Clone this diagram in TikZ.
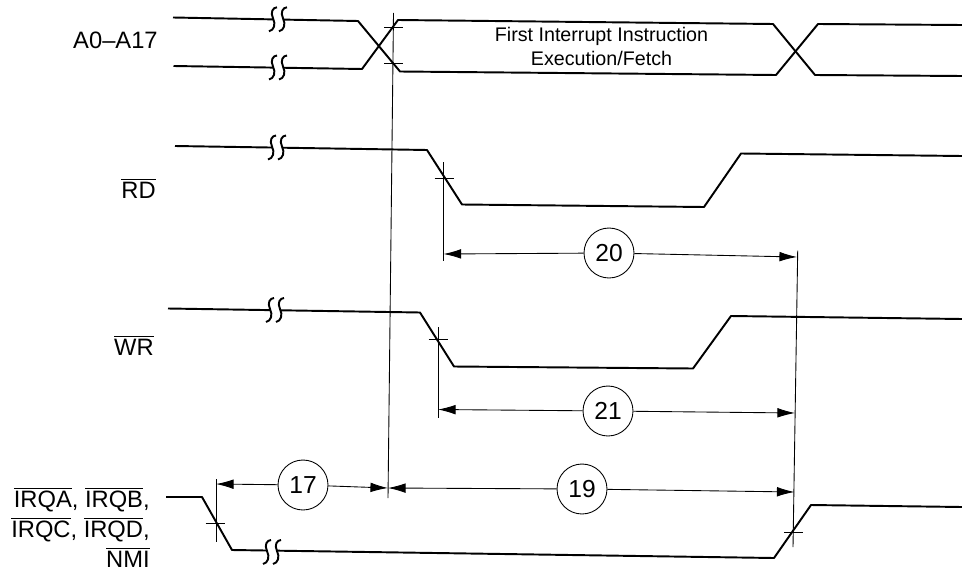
\documentclass[tikz,border=0pt]{standalone}
\usepackage{fontspec}
\setmainfont{Liberation Sans}
\usetikzlibrary{arrows.meta}
\newcommand{\ovl}[1]{$\overline{\mbox{#1}}$}

\begin{document}
\begin{tikzpicture}[x=0.02cm,y=0.02cm]
		\tikzstyle{every node}+=[inner sep=0pt]
		\tikzstyle{wave}=[line width=1.1pt,line join=round]
		\tikzstyle{thinline}=[line width=0.5pt]
		\tikzstyle{dimline}=[line width=0.5pt,-{Latex[length=10pt,width=5.5pt]}]
		\tikzstyle{timecircle}=[circle,draw,line width=0.5pt,fill=white,minimum size=1cm,font=\fontsize{14}{16}\selectfont]
		\tikzstyle{siglabel}=[font=\fontsize{13.5}{17}\selectfont]
		\useasboundingbox (0,0) rectangle (962,-571);
		% address bus
		\draw [wave] (173,-17.5) -- (358,-21) -- (400,-71.5) -- (776,-75) -- (818,-24) -- (962,-25);
		\draw [wave] (173.5,-66) -- (362,-69) -- (398,-20) -- (773,-24) -- (815,-75) -- (962,-76);
		\node [siglabel,anchor=base east] (lbladdr) at (158,-49) {A0--A17};
		\node [align=center,font=\fontsize{11.2}{13.7}\selectfont] (lblfirst) at (601.5,-46.5) {First Interrupt Instruction\\Execution/Fetch};
		% read and write
		\draw [wave] (175,-146) -- (427,-150) -- (462,-204.5) -- (704,-207) -- (741,-153.5) -- (962,-156);
		\node [siglabel,anchor=base east] (lblrd) at (156,-198) {\ovl{RD}};
		\draw [wave] (168,-308.5) -- (420,-312.5) -- (454,-366.5) -- (693,-368.5) -- (731,-316) -- (962,-319);
		\node [siglabel,anchor=base east] (lblwr) at (154,-355) {\ovl{WR}};
		% interrupt inputs
		\draw [wave] (166,-497) -- (202,-497) -- (232,-550) -- (774,-558) -- (811,-505) -- (962,-507);
		\node [siglabel,align=right,anchor=east] (lblirq) at (150,-527.5) {\ovl{IRQA}, \ovl{IRQB},\\\ovl{IRQC}, \ovl{IRQD},\\\ovl{NMI}};
		% line breaks
		\foreach \x/\y in {278/-19.3,278/-67.5,277/-147.5,275/-310,272/-552}
		{
			\fill [white] (\x-5,\y-9) rectangle (\x+5,\y+9);
			\draw [wave] (\x-1,\y+12) .. controls (\x-5,\y+12) and (\x-8,\y+7) .. (\x-5,\y+1) .. controls (\x-2,\y-5) and (\x-4,\y-11) .. (\x-9,\y-12);
			\draw [wave] (\x+9,\y+12) .. controls (\x+5,\y+12) and (\x+2,\y+7) .. (\x+5,\y+1) .. controls (\x+8,\y-5) and (\x+6,\y-11) .. (\x+1,\y-12);
		}
		% timing reference lines
		\coordinate (reftop) at (393.5,-13);
		\coordinate (refbot) at (388,-498);
		\coordinate (endtop) at (797.7,-250.7);
		\coordinate (endbot) at (793,-547);
		\coordinate (rdtop) at (443.5,-162);
		\coordinate (rdbot) at (443.5,-261);
		\coordinate (wrtop) at (438,-327);
		\coordinate (wrbot) at (438,-418);
		\coordinate (irqtop) at (216,-479);
		\coordinate (irqbot) at (216,-542);
		\draw [thinline] (reftop) -- (refbot);
		\draw [thinline] (endtop) -- (endbot);
		\draw [thinline] (rdtop) -- (rdbot);
		\draw [thinline] (wrtop) -- (wrbot);
		\draw [thinline] (irqtop) -- (irqbot);
		% crossing ticks
		\foreach \x/\y in {393.5/-27,393.5/-63,444/-178,438/-339,215/-523,793.5/-532}
		{
			\draw [thinline] (\x-9.5,\y) -- (\x+9.5,\y);
		}
		% intervals
		\node [timecircle] (c17) at (303,-485) {17};
		\node [timecircle] (c19) at (582,-489) {19};
		\node [timecircle] (c20) at (609,-253) {20};
		\node [timecircle] (c21) at (608,-411) {21};
		\coordinate (a17l) at (216,-484);
		\coordinate (a17r) at (388,-488);
		\coordinate (a19l) at (388,-488);
		\coordinate (a19r) at (794.5,-492);
		\coordinate (a20l) at (443.5,-254);
		\coordinate (a20r) at (797,-257);
		\coordinate (a21l) at (438,-409.5);
		\coordinate (a21r) at (795,-413);
		\draw [dimline] (c17) -- (a17l);
		\draw [dimline] (c17) -- (a17r);
		\draw [dimline] (c19) -- (a19l);
		\draw [dimline] (c19) -- (a19r);
		\draw [dimline] (c20) -- (a20l);
		\draw [dimline] (c20) -- (a20r);
		\draw [dimline] (c21) -- (a21l);
		\draw [dimline] (c21) -- (a21r);
	\end{tikzpicture}
\end{document}
